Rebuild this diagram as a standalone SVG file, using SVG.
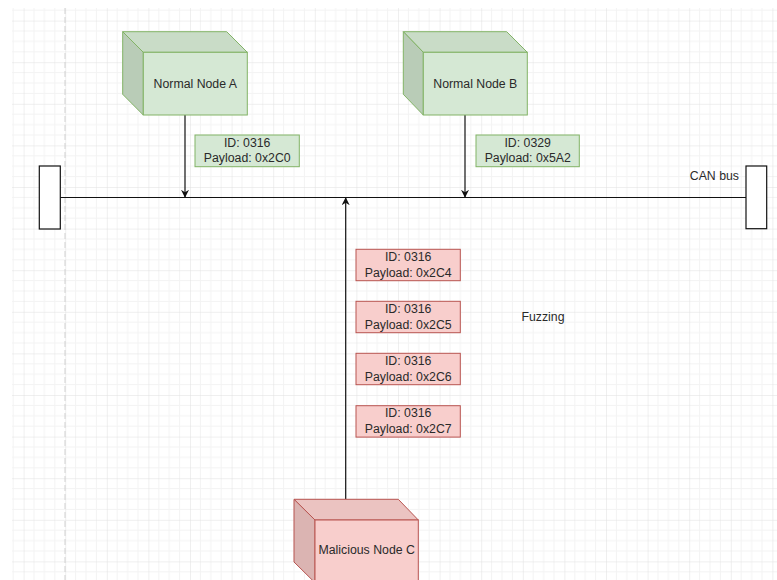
<svg xmlns="http://www.w3.org/2000/svg" width="777" height="580" viewBox="0 0 777 580">
<defs>
<pattern id="grid" patternUnits="userSpaceOnUse" x="23.6" y="20.6" width="41.6" height="41.6">
<path d="M10.4 0V41.6M20.8 0V41.6M31.2 0V41.6M0 10.4H41.6M0 20.8H41.6M0 31.2H41.6" stroke="#f3f3f3" stroke-width="1" fill="none"/>
<path d="M0 0V41.6M0 0H41.6" stroke="#e0e0e0" stroke-width="1" fill="none"/>
</pattern>
<marker id="arr" viewBox="0 0 10 10" refX="9" refY="5" markerWidth="8" markerHeight="8" markerUnits="userSpaceOnUse" orient="auto">
<path d="M0 0L10 5L0 10L3 5Z" fill="#111"/>
</marker>
<style>
.txt{font-family:"Liberation Sans",Arial,sans-serif;font-size:12.3px;fill:#2a2a2a;text-anchor:middle;dominant-baseline:central}
.gF{fill:#d5e8d4;stroke:#82b366;stroke-width:1}
.gT{fill:#c9dcc7;stroke:#82b366;stroke-width:1}
.gS{fill:#b9ccb7;stroke:#82b366;stroke-width:1}
.rF{fill:#f8cecc;stroke:#b85450;stroke-width:1}
.rT{fill:#ebc3c1;stroke:#b85450;stroke-width:1}
.rS{fill:#dbb4b2;stroke:#b85450;stroke-width:1}
.conn{stroke:#111;stroke-width:1.2;fill:none}
.term{fill:#fff;stroke:#111;stroke-width:1.2}
</style>
</defs>
<rect x="0" y="0" width="777" height="580" fill="#fff"/>
<rect x="12" y="8" width="765" height="572" fill="url(#grid)"/>
<line x1="65" y1="8" x2="65" y2="580" stroke="#d0d0d0" stroke-width="1" stroke-dasharray="6 3"/>

<g id="bus">
<rect class="term" x="39.3" y="166" width="21" height="63"/>
<rect class="term" x="746" y="166" width="20.7" height="62.7"/>
<line class="conn" x1="60.3" y1="197.5" x2="746" y2="197.5"/>
<text class="txt" x="739" y="176" style="text-anchor:end">CAN bus</text>
</g>

<g id="connectors">
<line class="conn" x1="185" y1="115" x2="185" y2="197" marker-end="url(#arr)"/>
<line class="conn" x1="465" y1="115" x2="465" y2="197" marker-end="url(#arr)"/>
<line class="conn" x1="345.7" y1="499.3" x2="345.7" y2="198" marker-end="url(#arr)"/>
</g>

<g id="nodeA">
<polygon class="gT" points="122.7,31.7 226.7,31.7 247.3,52.3 143.3,52.3"/>
<polygon class="gS" points="122.7,31.7 143.3,52.3 143.3,115 122.7,94.3"/>
<rect class="gF" x="143.3" y="52.3" width="104" height="62.7"/>
<text class="txt" x="195.3" y="83.5">Normal Node A</text>
</g>

<g id="nodeB">
<polygon class="gT" points="403.3,31.7 506.7,31.7 527.3,52.3 423.3,52.3"/>
<polygon class="gS" points="403.3,31.7 423.3,52.3 423.3,115 403.3,94.3"/>
<rect class="gF" x="423.3" y="52.3" width="104" height="62.7"/>
<text class="txt" x="475.3" y="83.5">Normal Node B</text>
</g>

<g id="nodeC">
<polygon class="rT" points="294,499.3 398.3,499.3 418.3,520 315,520"/>
<polygon class="rS" points="294,499.3 315,520 315,582.7 294,562"/>
<rect class="rF" x="315" y="520" width="103.3" height="62.7"/>
<text class="txt" x="366.7" y="550">Malicious Node C</text>
</g>

<g id="msgA">
<rect class="gF" x="195" y="135" width="104.3" height="31.7"/>
<text class="txt" x="247.2" y="143.3">ID: 0316</text>
<text class="txt" x="247.2" y="158.3">Payload: 0x2C0</text>
</g>

<g id="msgB">
<rect class="gF" x="476" y="135" width="103.3" height="31.7"/>
<text class="txt" x="527.7" y="143.3">ID: 0329</text>
<text class="txt" x="527.7" y="158.3">Payload: 0x5A2</text>
</g>

<g id="fuzz1">
<rect class="rF" x="356" y="249.3" width="104.3" height="31.4"/>
<text class="txt" x="408.2" y="257">ID: 0316</text>
<text class="txt" x="408.2" y="273">Payload: 0x2C4</text>
</g>
<g id="fuzz2">
<rect class="rF" x="356" y="301.3" width="104.3" height="31.4"/>
<text class="txt" x="408.2" y="309">ID: 0316</text>
<text class="txt" x="408.2" y="325">Payload: 0x2C5</text>
</g>
<g id="fuzz3">
<rect class="rF" x="356" y="353.3" width="104.3" height="31.4"/>
<text class="txt" x="408.2" y="361">ID: 0316</text>
<text class="txt" x="408.2" y="377">Payload: 0x2C6</text>
</g>
<g id="fuzz4">
<rect class="rF" x="356" y="405.7" width="104.3" height="31.4"/>
<text class="txt" x="408.2" y="413.4">ID: 0316</text>
<text class="txt" x="408.2" y="429.4">Payload: 0x2C7</text>
</g>

<g id="fuzzLabel">
<text class="txt" x="543" y="316.7">Fuzzing</text>
</g>
</svg>
